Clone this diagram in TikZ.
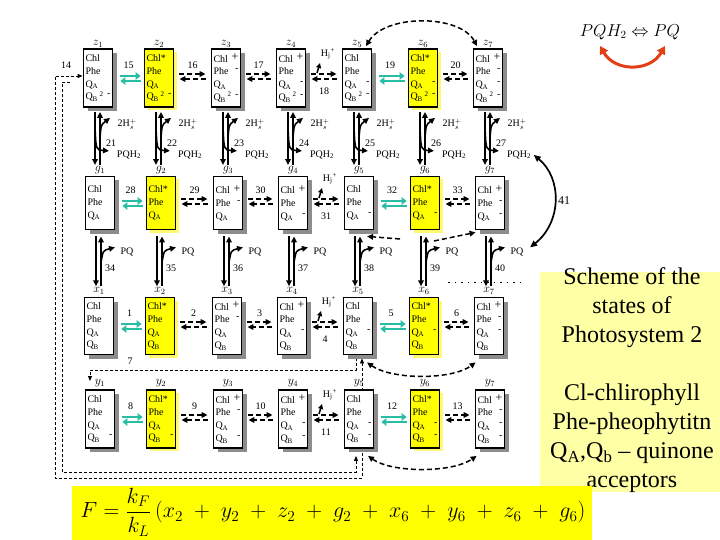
\documentclass[tikz,border=0pt]{standalone}
\usepackage{graphicx}
\usepackage{fontspec}
\setmainfont{Liberation Serif}
\usetikzlibrary{arrows.meta,shadows,calc,backgrounds}
\definecolor{tealA}{RGB}{40,190,165}
\definecolor{ylw}{RGB}{255,255,0}
\definecolor{pale}{RGB}{255,255,165}
\definecolor{redA}{RGB}{228,62,22}
\newcommand\hfr{\hskip 0pt plus 1filll}
\newcommand\chP{\hfr\raisebox{1.5pt}{\fontsize{12}{12}\selectfont +}}
\newcommand\chM{\hfr\raisebox{3pt}{-}}
\newcommand\qA{Q\textsubscript{A}}
\newcommand\qB{Q\textsubscript{B}}
\newcommand\qBtwo{Q\textsubscript{B}\,\textsuperscript{2}\hfr\raisebox{3pt}{-}}
\tikzset{
 boxbase/.style={draw=black,line width=1.8pt,text width=25pt,inner xsep=2pt,inner ysep=1pt,align=left,font=\fontsize{10}{12.8}\selectfont},
 pbox/.style={boxbase,fill=white,drop shadow={shadow xshift=4pt,shadow yshift=-4pt,fill=black!45,opacity=1}},
 hbox/.style={boxbase,fill=ylw,drop shadow={shadow xshift=3pt,shadow yshift=-3pt,fill=yellow!55,opacity=1}},
 zr/.style={minimum height=58pt},
 gr/.style={minimum height=53pt},
 xr/.style={minimum height=57pt},
 lab/.style={font=\fontsize{12}{13}\selectfont,inner sep=1pt},
 num/.style={font=\fontsize{10}{12}\selectfont,inner sep=1pt},
 small/.style={font=\fontsize{10}{12}\selectfont,inner sep=0.5pt},
 vl/.style={line width=1.6pt,-{Triangle[length=6pt,width=5.5pt]}},
 tl/.style={line width=2.6pt,draw=tealA,-{Triangle[length=5pt,width=7.5pt]}},
 dl/.style={line width=1.5pt,dash pattern=on 5pt off 3pt,-{Triangle[length=6pt,width=5.5pt]}},
 ddl/.style={dl,{Triangle[length=6pt,width=5.5pt]}-{Triangle[length=6pt,width=5.5pt]}},
 lp/.style={line width=0.8pt,dash pattern=on 3pt off 2pt},
}
\newcommand\tealpair[3]{%
 \coordinate (m#3) at ($(#1.east)!0.5!(#2.west)$);
 \draw[tl] ([xshift=7pt,yshift=2pt]#1.east) -- ([xshift=-3pt,yshift=2pt]#2.west);
 \draw[tl] ([xshift=-3pt,yshift=-3pt]#2.west) -- ([xshift=7pt,yshift=-3pt]#1.east);
 \node[num] (n#3) at ($(m#3)+(0,-13)$) {#3};
}
\newcommand\dashpair[3]{%
 \coordinate (m#3) at ($(#1.east)!0.5!(#2.west)$);
 \draw[dl] ([xshift=5pt,yshift=4pt]#1.east) -- ([xshift=-5pt,yshift=4pt]#2.west);
 \draw[dl] ([xshift=-5pt,yshift=-1pt]#2.west) -- ([xshift=5pt,yshift=-1pt]#1.east);
 \node[num] (n#3) at ($(m#3)+(0,-13)$) {#3};
}
\newcommand\hpair[3]{%
 \coordinate (m#3) at ($(#1.east)!0.5!(#2.west)$);
 \draw[dl] ([xshift=5pt,yshift=4pt]#1.east) -- ([xshift=-5pt,yshift=4pt]#2.west);
 \draw[dl] ([xshift=-5pt,yshift=-1pt]#2.west) -- ([xshift=5pt,yshift=-1pt]#1.east);
 \node[num] (n#3) at ($(m#3)+(0,13)$) {#3};
 \node[small] (hj#3) at ($(m#3)+(4,-24)$) {H\textsubscript{j}\textsuperscript{+}};
 \draw[line width=1.5pt,-{Triangle[length=5pt,width=5pt]}] ($(m#3)+(-7,-5)$) -- ($(m#3)+(-4,-15)$);
}
\newcommand\zg[1]{%
 \draw[vl] ($(z#1.south)+(-3,4)$) -- ($(z#1.south |- lg#1.north)+(-3,0)$);
 \draw[vl] ($(z#1.south |- lg#1.north)+(2,0)$) -- ($(z#1.south)+(2,4)$);
 \draw[vl] ($(z#1.south)+(2,30)$) .. controls ($(z#1.south)+(3,17)$) .. ($(z#1.south)+(12,10)$);
 \draw[vl] ($(z#1.south)+(-3,20)$) .. controls ($(z#1.south)+(-2,42)$) .. ($(z#1.south)+(11,43)$);
 \node[small] (hs#1) at ($(z#1.south)+(29,16)$) {2H$_{s}^{+}$};
 \node[num] (nz#1) at ($(z#1.south)+(13,35)$) {\the\numexpr#1+20\relax};
 \node[small] (pqh#1) at ($(z#1.south)+(31,47)$) {PQH\textsubscript{2}};
}
\newcommand\gx[1]{%
 \draw[vl] ($(x#1.north |- g#1.south)+(-3,6)$) -- ($(x#1.north |- lx#1.north)+(-3,0)$);
 \draw[vl] ($(x#1.north |- lx#1.north)+(2,0)$) -- ($(x#1.north |- g#1.south)+(2,6)$);
 \draw[vl] ($(x#1.north |- g#1.south)+(2,32)$) .. controls ($(x#1.north |- g#1.south)+(4,20)$) .. ($(x#1.north |- g#1.south)+(16,17)$);
 \node[small] (pq#1) at ($(g#1.south)+(27,22)$) {PQ};
 \node[num] (ng#1) at ($(g#1.south)+(10,38)$) {\the\numexpr#1+33\relax};
}
\begin{document}
\begin{tikzpicture}[x=1pt,y=-1pt]
\useasboundingbox (0,0) rectangle (720,540);

% ---- row z
\node[lab] (lz1) at (98,44) {$z_1$};
\node[lab] (lz2) at (159,44) {$z_2$};
\node[lab] (lz3) at (226,44) {$z_3$};
\node[lab] (lz4) at (291,44) {$z_4$};
\node[lab] (lz5) at (357,44) {$z_5$};
\node[lab] (lz6) at (423,44) {$z_6$};
\node[lab] (lz7) at (488,44) {$z_7$};
\node[pbox,zr] (z1) at (98,78) {Chl\\Phe\\\qA\\\qBtwo};
\node[hbox,zr] (z2) at (159,78) {Chl*\\Phe\\\qA\\\qBtwo};
\node[pbox,zr] (z3) at (226,78) {Chl\chP\\Phe\chM\\\qA\\\qBtwo};
\node[pbox,zr] (z4) at (291,78) {Chl\chP\\Phe\\\qA\chM\\\qBtwo};
\node[pbox,zr] (z5) at (357,78) {Chl\\Phe\\\qA\chM\\\qBtwo};
\node[hbox,zr] (z6) at (423,78) {Chl*\\Phe\\\qA\chM\\\qBtwo};
\node[pbox,zr] (z7) at (488,78) {Chl\chP\\Phe\chM\\\qA\chM\\\qBtwo};

% ---- row g
\node[lab] (lg1) at (100,170) {$g_1$};
\node[lab] (lg2) at (161,170) {$g_2$};
\node[lab] (lg3) at (228,170) {$g_3$};
\node[lab] (lg4) at (293,170) {$g_4$};
\node[lab] (lg5) at (359,170) {$g_5$};
\node[lab] (lg6) at (425,170) {$g_6$};
\node[lab] (lg7) at (490,170) {$g_7$};
\node[pbox,gr] (g1) at (100,203) {Chl\\Phe\\\qA};
\node[hbox,gr] (g2) at (161,203) {Chl*\\Phe\\\qA};
\node[pbox,gr] (g3) at (228,203) {Chl\chP\\Phe\chM\\\qA};
\node[pbox,gr] (g4) at (293,203) {Chl\chP\\Phe\\\qA\chM};
\node[pbox,gr] (g5) at (359,203) {Chl\\Phe\\\qA\chM};
\node[hbox,gr] (g6) at (425,203) {Chl*\\Phe\\\qA\chM};
\node[pbox,gr] (g7) at (490,203) {Chl\chP\\Phe\chM\\\qA\chM};

% ---- row x
\node[lab] (lx1) at (99,291) {$x_1$};
\node[lab] (lx2) at (160,291) {$x_2$};
\node[lab] (lx3) at (227,291) {$x_3$};
\node[lab] (lx4) at (292,291) {$x_4$};
\node[lab] (lx5) at (358,291) {$x_5$};
\node[lab] (lx6) at (424,291) {$x_6$};
\node[lab] (lx7) at (489,291) {$x_7$};
\node[pbox,xr] (x1) at (99,326) {Chl\\Phe\\\qA\\\qB};
\node[hbox,xr] (x2) at (160,326) {Chl*\\Phe\\\qA\\\qB};
\node[pbox,xr] (x3) at (227,326) {Chl\chP\\Phe\chM\\\qA\\\qB};
\node[pbox,xr] (x4) at (292,326) {Chl\chP\\Phe\\\qA\chM\\\qB};
\node[pbox,xr] (x5) at (358,326) {Chl\\Phe\\\qA\chM\\\qB};
\node[hbox,xr] (x6) at (424,326) {Chl*\\Phe\\\qA\chM\\\qB};
\node[pbox,xr] (x7) at (489,326) {Chl\chP\\Phe\chM\\\qA\chM\\\qB};

% ---- row y
\node[lab] (ly1) at (100,383) {$y_1$};
\node[lab] (ly2) at (161,383) {$y_2$};
\node[lab] (ly3) at (228,383) {$y_3$};
\node[lab] (ly4) at (293,383) {$y_4$};
\node[lab] (ly5) at (359,383) {$y_5$};
\node[lab] (ly6) at (425,383) {$y_6$};
\node[lab] (ly7) at (490,383) {$y_7$};
\node[pbox,zr] (y1) at (100,419) {Chl\\Phe\\\qA\\\qB\chM};
\node[hbox,zr] (y2) at (161,419) {Chl*\\Phe\\\qA\\\qB\chM};
\node[pbox,zr] (y3) at (228,419) {Chl\chP\\Phe\chM\\\qA\\\qB\chM};
\node[pbox,zr] (y4) at (293,419) {Chl\chP\\Phe\\\qA\chM\\\qB\chM};
\node[pbox,zr] (y5) at (359,419) {Chl\\Phe\\\qA\chM\\\qB\chM};
\node[hbox,zr] (y6) at (425,419) {Chl*\\Phe\\\qA\chM\\\qB\chM};
\node[pbox,zr] (y7) at (490,419) {Chl\chP\\Phe\chM\\\qA\chM\\\qB\chM};

% ---- horizontal transitions
\tealpair{z1}{z2}{15}\dashpair{z2}{z3}{16}\dashpair{z3}{z4}{17}\hpair{z4}{z5}{18}\tealpair{z5}{z6}{19}\dashpair{z6}{z7}{20}
\tealpair{g1}{g2}{28}\dashpair{g2}{g3}{29}\dashpair{g3}{g4}{30}\hpair{g4}{g5}{31}\tealpair{g5}{g6}{32}\dashpair{g6}{g7}{33}
\tealpair{x1}{x2}{1}\dashpair{x2}{x3}{2}\dashpair{x3}{x4}{3}\hpair{x4}{x5}{4}\tealpair{x5}{x6}{5}\dashpair{x6}{x7}{6}
\tealpair{y1}{y2}{8}\dashpair{y2}{y3}{9}\dashpair{y3}{y4}{10}\hpair{y4}{y5}{11}\tealpair{y5}{y6}{12}\dashpair{y6}{y7}{13}

% ---- vertical transitions
\zg{1}\zg{2}\zg{3}\zg{4}\zg{5}\zg{6}\zg{7}
\gx{1}\gx{2}\gx{3}\gx{4}\gx{5}\gx{6}\gx{7}

% ---- extra dashed links
\draw[ddl] ([xshift=9pt,yshift=2pt]z5.north) .. controls (385,14) and (460,14) .. ([xshift=-11pt,yshift=2pt]z7.north);
\coordinate (ga) at (400,239);
\coordinate (gb) at (434,241);
\draw[dl] (ga) -- ([xshift=8pt,yshift=-6pt]g5.south);
\draw[dl] (gb) -- ([xshift=1pt,yshift=-2pt]g7.south west);
\draw[ddl] ([xshift=9pt,yshift=-7pt]x5.south) .. controls (392,380) and (452,380) .. ([xshift=2pt,yshift=-7pt]x7.south west);
\draw[ddl] ([xshift=9pt,yshift=-7pt]y5.south) .. controls (392,473) and (452,473) .. ([xshift=2pt,yshift=-7pt]y7.south west);
\coordinate (dA) at (448,282);
\coordinate (dB) at (522,282);
\draw[line width=0.8pt,dash pattern=on 1.5pt off 5pt] (dA) -- (dB);

% ---- 41
\draw[line width=1.7pt,{Triangle[length=7pt,width=6pt]}-{Triangle[length=7pt,width=6pt]}] ([xshift=2pt]pqh7.east) .. controls (562,178) and (562,222) .. ([xshift=6pt,yshift=5pt]pq7.east);
\node[font=\fontsize{12}{14}\selectfont] (n41) at (564,201) {41};

% ---- loops
\node[num] (n14) at (66,65) {14};
\node[num] (n7) at (130,361) {7};
\coordinate (inEnd) at (70,82);
\coordinate (y1in) at (90,381);
\begin{pgfonlayer}{background}
\draw[lp,{Triangle[length=5pt,width=4pt]}-{Triangle[length=5pt,width=4pt]}] ([xshift=4pt,yshift=-3pt]x5.south) |- (55,478) |- ([yshift=2pt]z1.west);
\draw[lp,-{Triangle[length=5pt,width=4pt]}] (inEnd) -| (62,472) -| ([xshift=-3pt,yshift=-7pt]y5.south);
\draw[lp,-{Triangle[length=5pt,width=4pt]}] ([xshift=-2pt,yshift=-3pt]x5.south) |- (90,370) -- (y1in);
\end{pgfonlayer}

% ---- title
\node[font=\fontsize{16}{18}\selectfont] (title) at (630,32) {$PQH_2 \Leftrightarrow PQ$};
\coordinate (ra) at (600,46);
\coordinate (rb) at (665,46);
\draw[redA,line width=3pt,{Triangle[length=8pt,width=9pt]}-{Triangle[length=8pt,width=9pt]}] (ra) .. controls (615,72) and (650,72) .. (rb);

% ---- description
\node[fill=pale,minimum width=180pt,minimum height=220pt,inner sep=0pt,anchor=north west] (descbox) at (540,272) {};
\node[align=center,font=\fontsize{24}{29}\selectfont] (desc) at (632,380) {Scheme of the\\states of\\Photosystem 2\\[29pt]Cl-chlirophyll\\Phe-pheophytitn\\Q\textsubscript{A},Q\textsubscript{b} – quinone\\acceptors};

% ---- formula
\node[fill=ylw,minimum width=520pt,minimum height=54pt,inner sep=0pt,anchor=north west] (fbox) at (72,486) {};
\node[inner sep=0pt] (formula) at (333,512) {\resizebox{505pt}{!}{\fontsize{20}{24}\selectfont$\displaystyle F=\frac{k_F}{k_L}\,(x_2\;+\;y_2\;+\;z_2\;+\;g_2\;+\;x_6\;+\;y_6\;+\;z_6\;+\;g_6)$}};
\end{tikzpicture}
\end{document}
